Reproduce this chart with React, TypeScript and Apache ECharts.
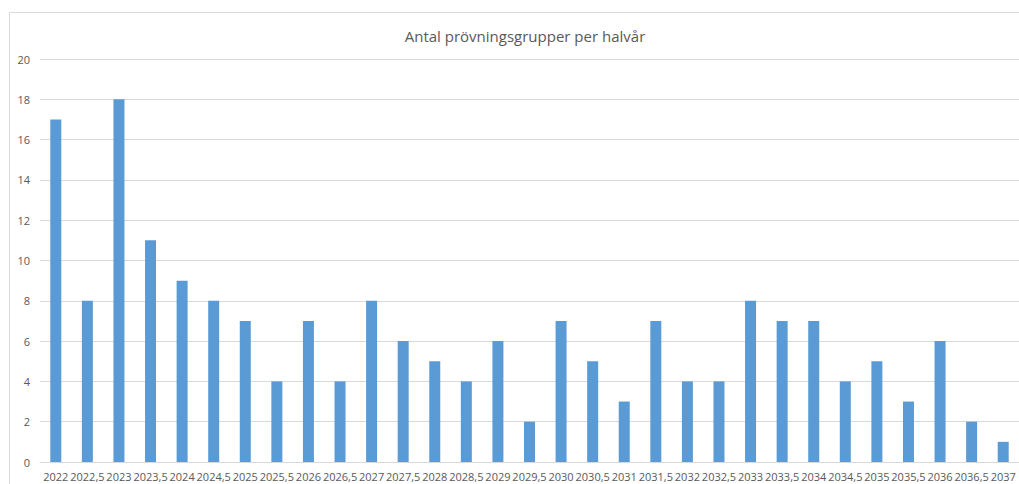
import React, { useEffect, useRef } from "react";
import * as echarts from "echarts";

const categories = [
  "2022", "2022,5", "2023", "2023,5", "2024", "2024,5", "2025", "2025,5",
  "2026", "2026,5", "2027", "2027,5", "2028", "2028,5", "2029", "2029,5",
  "2030", "2030,5", "2031", "2031,5", "2032", "2032,5", "2033", "2033,5",
  "2034", "2034,5", "2035", "2035,5", "2036", "2036,5", "2037",
];
const values = [
  17, 8, 18, 11, 9, 8, 7, 4, 7, 4, 8, 6, 5, 4, 6, 2,
  7, 5, 3, 7, 4, 4, 8, 7, 7, 4, 5, 3, 6, 2, 1,
];
const title = "Antal prövningsgrupper per halvår";

export default function App() {
  const ref = useRef<HTMLDivElement>(null);
  useEffect(() => {
    if (!ref.current) return;
    const chart = echarts.init(ref.current, undefined, { renderer: "svg" });
    chart.setOption({
      animation: false,
      backgroundColor: "#ffffff",
      textStyle: { fontFamily: "Open Sans, Liberation Sans, sans-serif" },
      title: {
        text: title,
        left: 520,
        top: 23,
        textAlign: "center",
        textStyle: {
          fontSize: 15,
          fontWeight: "normal",
          color: "#595959",
          fontFamily: "Open Sans, Liberation Sans, sans-serif",
        },
      },
      graphic: [
        {
          type: "rect",
          shape: { x: 9.5, y: 12.5, width: 1100, height: 600 },
          style: { fill: "none", stroke: "#d9d9d9", lineWidth: 1 },
          silent: true,
          z: -1,
        },
      ],
      grid: { left: 40, right: 0, top: 59, bottom: 22, containLabel: false },
      xAxis: {
        type: "category",
        data: categories,
        axisLine: { lineStyle: { color: "#d9d9d9" } },
        axisTick: { show: false },
        axisLabel: {
          color: "#595959",
          fontSize: 11,
          interval: 0,
          margin: 9,
        },
      },
      yAxis: {
        type: "value",
        min: 0,
        max: 20,
        interval: 2,
        axisLine: { show: false },
        axisTick: { show: false },
        splitLine: { lineStyle: { color: "#d9d9d9" } },
        axisLabel: { color: "#595959", fontSize: 11, margin: 10 },
      },
      series: [
        {
          type: "bar",
          data: values,
          barWidth: 11,
          itemStyle: { color: "#5b9bd5" },
        },
      ],
    });
    return () => chart.dispose();
  }, []);
  return (
    <div
      ref={ref}
      style={{ position: "fixed", left: 0, top: 0, width: 1019, height: 484 }}
    />
  );
}
